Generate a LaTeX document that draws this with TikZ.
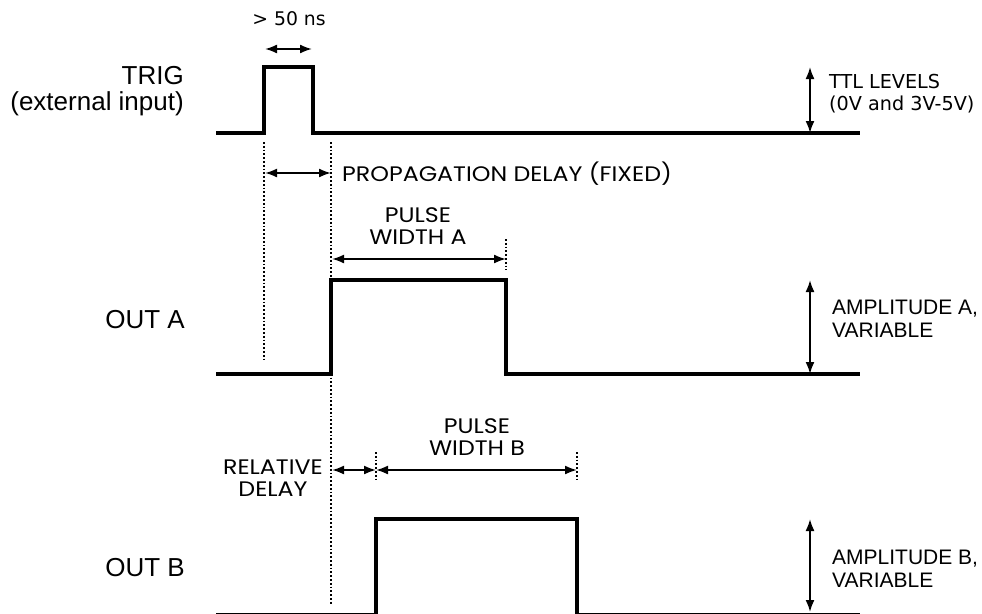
\documentclass[tikz,border=0pt]{standalone}
\usepackage{fontspec}
\setmainfont{Liberation Sans}
\newfontfamily\dvs{DejaVu Sans}
\newfontfamily\geo[FakeStretch=1.13]{Poppins}
\usetikzlibrary{arrows.meta}
\begin{document}
\begin{tikzpicture}[x=1pt,y=-1pt,
  wave/.style={line width=3.8pt, line join=miter, line cap=butt},
  dim/.style={line width=1.9pt, {Latex[length=12pt,width=9pt]}-{Latex[length=12pt,width=9pt]}},
  updown/.style={line width=1.9pt, {Latex[length=12pt,width=9pt]}-{Latex[length=12pt,width=9pt]}},
  guide/.style={line width=1.8pt, dash pattern=on 1.8pt off 2pt},
  arl/.style={font=\fontsize{26}{26}\selectfont, inner sep=0pt, align=right},
  arlr/.style={font=\fontsize{21}{23}\selectfont, inner sep=0pt, align=left},
  dvl/.style={font=\dvs\fontsize{19.2}{22}\selectfont, inner sep=0pt, align=left},
  dvs/.style={font=\dvs\fontsize{18.8}{22}\selectfont, inner sep=0pt},
  geol/.style={font=\geo\fontsize{21}{22.5}\selectfont, inner sep=0pt, align=center}]
\useasboundingbox (0,0) rectangle (982,613);

% ---------- TRIG ----------
\coordinate (t0) at (216,133);
\coordinate (t1) at (264,133);
\coordinate (t2) at (264,67);
\coordinate (t3) at (313,67);
\coordinate (t4) at (313,133);
\coordinate (t5) at (860,133);
\draw[wave] (t0) -- (t1) -- (t2) -- (t3) -- (t4) -- (t5);
\node[arl, anchor=east] (trig) at (184,91) {TRIG\\(external input)};
\node[dvs, anchor=center] (w50) at (289,19) {> 50 ns};
\coordinate (w50a) at (265,49);
\coordinate (w50b) at (312,49);
\draw[dim] (w50a) -- (w50b);
\coordinate (ttla) at (810,67);
\coordinate (ttlb) at (810,133);
\draw[updown] (ttla) -- (ttlb);
\node[dvl, anchor=west] (ttl) at (829,94) {TTL LEVELS\\(0V and 3V-5V)};

% ---------- guides ----------
\coordinate (g1a) at (264,142);
\coordinate (g1b) at (264,360);
\coordinate (g2a) at (331,142);
\coordinate (g2b) at (331,604);
\draw[guide] (g1a) -- (g1b);
\draw[guide] (g2a) -- (g2b);
\coordinate (pda) at (265,173);
\coordinate (pdb) at (331,173);
\draw[dim] (pda) -- (pdb);
\node[geol, anchor=west] (pd) at (342,174) {PROPAGATION DELAY (FIXED)};

% ---------- OUT A ----------
\coordinate (a0) at (216,374);
\coordinate (a1) at (331,374);
\coordinate (a2) at (331,280);
\coordinate (a3) at (506,280);
\coordinate (a4) at (506,374);
\coordinate (a5) at (860,374);
\draw[wave] (a0) -- (a1) -- (a2) -- (a3) -- (a4) -- (a5);
\coordinate (ga1) at (506,239);
\coordinate (ga2) at (506,270);
\draw[guide] (ga1) -- (ga2);
\coordinate (pwaa) at (332,259);
\coordinate (pwab) at (506,259);
\draw[dim] (pwaa) -- (pwab);
\node[geol] (pwa) at (418,226) {PULSE\\WIDTH A};
\node[arl, anchor=east] (outa) at (185,320) {OUT A};
\coordinate (ampaa) at (810,280);
\coordinate (ampab) at (810,374);
\draw[updown] (ampaa) -- (ampab);
\node[arlr, anchor=west] (ampa) at (832,319) {AMPLITUDE A,\\VARIABLE};

% ---------- OUT B ----------
\coordinate (b0) at (216,614.6);
\coordinate (b1) at (376,614.6);
\coordinate (b2) at (376,519);
\coordinate (b3) at (577,519);
\coordinate (b4) at (577,614.6);
\coordinate (b5) at (860,614.6);
\draw[wave] (b0) -- (b1) -- (b2) -- (b3) -- (b4) -- (b5);
\coordinate (gb1) at (376,452);
\coordinate (gb2) at (376,479);
\draw[guide] (gb1) -- (gb2);
\coordinate (gb3) at (577,452);
\coordinate (gb4) at (577,479);
\draw[guide] (gb3) -- (gb4);
\coordinate (rda) at (332,470);
\coordinate (rdb) at (376,470);
\draw[dim] (rda) -- (rdb);
\coordinate (pwba) at (376,470);
\coordinate (pwbb) at (577,470);
\draw[dim] (pwba) -- (pwbb);
\node[geol] (pwb) at (477,437) {PULSE\\WIDTH B};
\node[geol] (rd) at (273,478) {RELATIVE\\DELAY};
\node[arl, anchor=east] (outb) at (185,568) {OUT B};
\coordinate (ampba) at (810,519);
\coordinate (ampbb) at (810,612);
\draw[updown] (ampba) -- (ampbb);
\node[arlr, anchor=west] (ampb) at (832,569) {AMPLITUDE B,\\VARIABLE};
\end{tikzpicture}
\end{document}
